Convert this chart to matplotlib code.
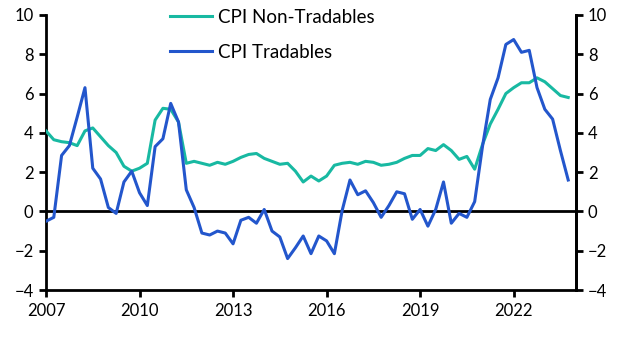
import matplotlib
matplotlib.use("Agg")
import matplotlib.pyplot as plt
import numpy as np

plt.rcParams['font.family'] = ['Lato', 'DejaVu Sans']

start_year = 2007.0
tradables = [-0.5, -0.3, 2.85, 3.35, 4.8, 6.3, 2.2, 1.65, 0.2, -0.1,
             1.5, 2.05, 0.95, 0.3, 3.3, 3.7, 5.5, 4.55, 1.1, 0.2,
             -1.1, -1.2, -1.0, -1.1, -1.65, -0.45, -0.3, -0.6, 0.1, -1.0,
             -1.3, -2.4, -1.85, -1.25, -2.15, -1.25, -1.5, -2.15, 0.05, 1.6,
             0.85, 1.05, 0.45, -0.3, 0.3, 1.0, 0.9, -0.4, 0.1, -0.75,
             0.1, 1.5, -0.6, -0.1, -0.3, 0.5, 3.3, 5.7, 6.8, 8.5,
             8.75, 8.1, 8.2, 6.3, 5.2, 4.7, 3.1, 1.6]
non_tradables = [4.1, 3.65, 3.55, 3.5, 3.35, 4.1, 4.25, 3.8, 3.35, 3.0,
                 2.3, 2.05, 2.2, 2.45, 4.65, 5.25, 5.2, 4.55, 2.45, 2.55,
                 2.45, 2.35, 2.5, 2.4, 2.55, 2.75, 2.9, 2.95, 2.7, 2.55,
                 2.4, 2.45, 2.05, 1.5, 1.8, 1.55, 1.8, 2.35, 2.45, 2.5,
                 2.4, 2.55, 2.5, 2.35, 2.4, 2.5, 2.7, 2.85, 2.85, 3.2,
                 3.1, 3.4, 3.1, 2.65, 2.8, 2.15, 3.4, 4.45, 5.2, 6.0,
                 6.3, 6.55, 6.55, 6.8, 6.6, 6.25, 5.9, 5.8]
x_ticks = [2007, 2010, 2013, 2016, 2019, 2022]
y_ticks = [-4, -2, 0, 2, 4, 6, 8, 10]

x = start_year + np.arange(len(tradables)) * 0.25

fig = plt.figure(figsize=(6.25, 3.39), dpi=100)
ax = fig.add_axes([0.0736, 0.1445, 0.848, 0.8113])

teal = '#18b9a2'
blue = '#2356cc'
ax.plot(x, non_tradables, color=teal, lw=2.2, label='CPI Non-Tradables', zorder=3)
ax.plot(x, tradables, color=blue, lw=2.2, label='CPI Tradables', zorder=4)
ax.axhline(0, color='black', lw=2, zorder=2)

ax.set_xlim(2007, 2024)
ax.set_ylim(-4, 10)
ax.set_xticks(x_ticks)
ax.set_yticks(y_ticks)
ax.spines['top'].set_visible(False)
for s in ['left', 'right', 'bottom']:
    ax.spines[s].set_linewidth(2)
ax.tick_params(axis='both', width=2, length=5, labelsize=12, colors='black')
ax.tick_params(axis='y', pad=4)
ax.tick_params(axis='x', pad=4)

ax2 = ax.twinx()
ax2.set_ylim(-4, 10)
ax2.set_yticks(y_ticks)
ax2.spines['top'].set_visible(False)
ax2.spines['left'].set_visible(False)
ax2.spines['bottom'].set_visible(False)
ax2.spines['right'].set_linewidth(2)
ax2.tick_params(axis='y', width=2, length=5, labelsize=12, colors='black')

leg = ax.legend(loc='upper left', bbox_to_anchor=(0.22, 1.05), borderaxespad=0,
                frameon=False, fontsize=13.5, handlelength=2.25,
                labelspacing=0.95, handletextpad=0.3)

fig.savefig('out.png', dpi=100)
